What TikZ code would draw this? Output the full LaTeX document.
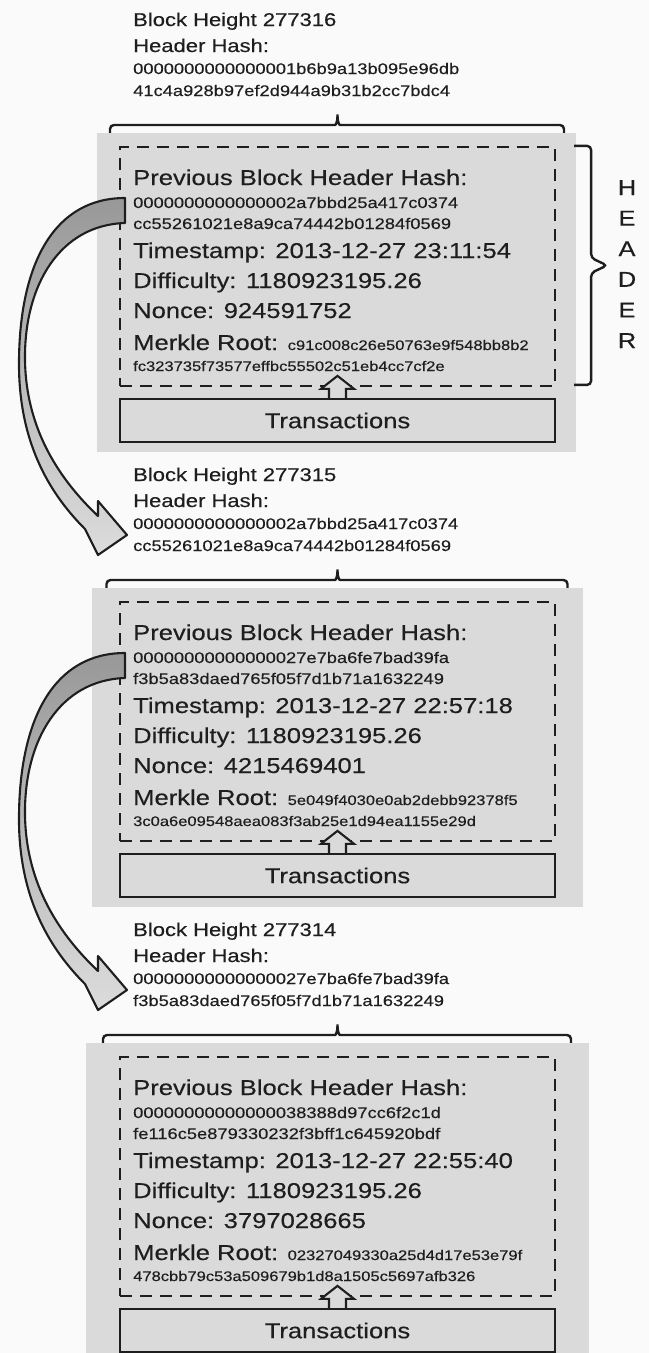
\documentclass[tikz,border=0pt]{standalone}
\usepackage{fontspec}
\setmainfont{Liberation Sans}[FakeStretch=1.19, FakeBold=0.35]
\usetikzlibrary{calc,positioning}
\definecolor{Paper}{HTML}{FAFAFA}
\definecolor{Slab}{HTML}{DADADA}
\definecolor{Ink}{HTML}{1E1E1E}
\definecolor{ArrowTop}{HTML}{989898}
\definecolor{ArrowEnd}{HTML}{DCDCDC}
\newcommand{\fsz}[1]{\fontsize{#1}{#1}\selectfont}

\begin{document}
\begin{tikzpicture}[x=1pt, y=-1pt,
    toptxt/.style={anchor=base west, inner sep=0pt, text=Ink, font=\fsz{18.5}},
    rowtxt/.style={anchor=base west, inner sep=0pt, text=Ink, font=\fsz{21.5}},
    hashtxt/.style={anchor=base west, inner sep=0pt, text=Ink, font=\fsz{15.4}},
    slab/.style={fill=Slab, inner sep=0pt, minimum height=319pt},
    hdrbox/.style={draw=Ink, line width=2.2pt, dash pattern=on 12pt off 8pt, inner sep=0pt, minimum width=435pt, minimum height=239pt},
    txbox/.style={draw=Ink, fill=Slab, line width=2.3pt, inner sep=0pt, minimum width=435pt, minimum height=43pt, text=Ink, font=\fsz{21.5}},
    bracket/.style={draw=Ink, line width=2.4pt, rounded corners=4pt},
    bigarrow/.style={draw=Ink, line width=2.1pt, line join=round, top color=ArrowTop, bottom color=ArrowEnd},
    uparrow/.style={draw=Ink, fill=Slab, line width=2.1pt}]
  \useasboundingbox (0,0) rectangle (649,1353);
  \clip (0,0) rectangle (649,1353);
  \fill[Paper] (0,0) rectangle (649,1353);

  \foreach \i/\hgt/\hxa/\hxb/\pxa/\pxb/\tsv/\ncv/\mxa/\mxb in {
    0/277316/0000000000000001b6b9a13b095e96db/41c4a928b97ef2d944a9b31b2cc7bdc4/0000000000000002a7bbd25a417c0374/cc55261021e8a9ca74442b01284f0569/2013-12-27 23:11:54/924591752/c91c008c26e50763e9f548bb8b2/fc323735f73577effbc55502c51eb4cc7cf2e,
    1/277315/0000000000000002a7bbd25a417c0374/cc55261021e8a9ca74442b01284f0569/00000000000000027e7ba6fe7bad39fa/f3b5a83daed765f05f7d1b71a1632249/2013-12-27 22:57:18/4215469401/5e049f4030e0ab2debb92378f5/3c0a6e09548aea083f3ab25e1d94ea1155e29d,
    2/277314/00000000000000027e7ba6fe7bad39fa/f3b5a83daed765f05f7d1b71a1632249/00000000000000038388d97cc6f2c1d/fe116c5e879330232f3bff1c645920bdf/2013-12-27 22:55:40/3797028665/02327049330a25d4d17e53e79f/478cbb79c53a509679b1d8a1505c5697afb326}{
    \pgfmathsetmacro{\gxl}{97-5.5*\i}
    \pgfmathsetmacro{\gxr}{576+6.5*\i}
    \pgfmathsetmacro{\bxl}{110-3.5*\i}
    \pgfmathsetmacro{\bxr}{564+3.5*\i}
    \begin{scope}[shift={(0,455*\i)}]
      \node[toptxt] (bh\i) at (133,26) {Block Height \hgt};
      \node[toptxt] (hh\i) at (133,52) {Header Hash:};
      \node[hashtxt] (ha\i) at (133,74) {\hxa};
      \node[hashtxt] (hb\i) at (133,96) {\hxb};
      \draw[bracket] (\bxl,139) |- (331,125) .. controls (336,125) and (337.5,121) .. (337.5,112)
        .. controls (337.5,121) and (339,125) .. (344,125) -| (\bxr,139);

      \node[slab, minimum width={\gxr-\gxl}] (blk\i) at ({(\gxl+\gxr)/2},292.5) {};
      \node[hdrbox] (hdr\i) at (337.5,266.5) {};
      \node[rowtxt] (pv\i) at (133,185) {Previous Block Header Hash:};
      \node[hashtxt] (pa\i) at (133,208) {\pxa};
      \node[hashtxt] (pb\i) at (133,229) {\pxb};
      \node[rowtxt] (ts\i) at (133,258) {Timestamp: \tsv};
      \node[rowtxt] (df\i) at (133,288) {Difficulty: 1180923195.26};
      \node[rowtxt] (nc\i) at (133,318) {Nonce: \ncv};
      \node[rowtxt] (mr\i) at (133,350) {Merkle Root: {\fsz{13.9}\mxa}};
      \node[hashtxt, font=\fsz{13.9}] (mb\i) at (133,371) {\mxb};
      \node[txbox] (tx\i) at (337.5,420.5) {Transactions};
      \draw[uparrow] ([xshift=-8.5pt]tx\i.north) -- ++(0,-9) -- ++(-8,0) -- ++(16.5,-13)
        -- ++(16.5,13) -- ++(-8,0) -- ++(0,9);

      \ifnum\i<2
        \draw[bigarrow] (125,198) .. controls (55,198) and (20,262) .. (19,360)
          .. controls (18,440) and (48,492) .. (85,529) -- (98,555) -- (127,535) -- (98,501) -- (98,516)
          .. controls (60,480) and (26,430) .. (25,360) .. controls (24,285) and (60,225) .. (125,223) -- cycle;
      \fi
    \end{scope}
  }

  \draw[bracket] ([xshift=18pt]hdr0.north east) -- ++(17,0) -- ++(0,112) -- ++(16,7.5)
    -- ++(-16,7.5) -- ++(0,112) -- ++(-17,0);
  \foreach \c [count=\k from 0] in {H,E,A,D,E,R}
    \node[rowtxt, anchor=base] (hd\k) at (627,195+30.6*\k) {\c};
\end{tikzpicture}
\end{document}
